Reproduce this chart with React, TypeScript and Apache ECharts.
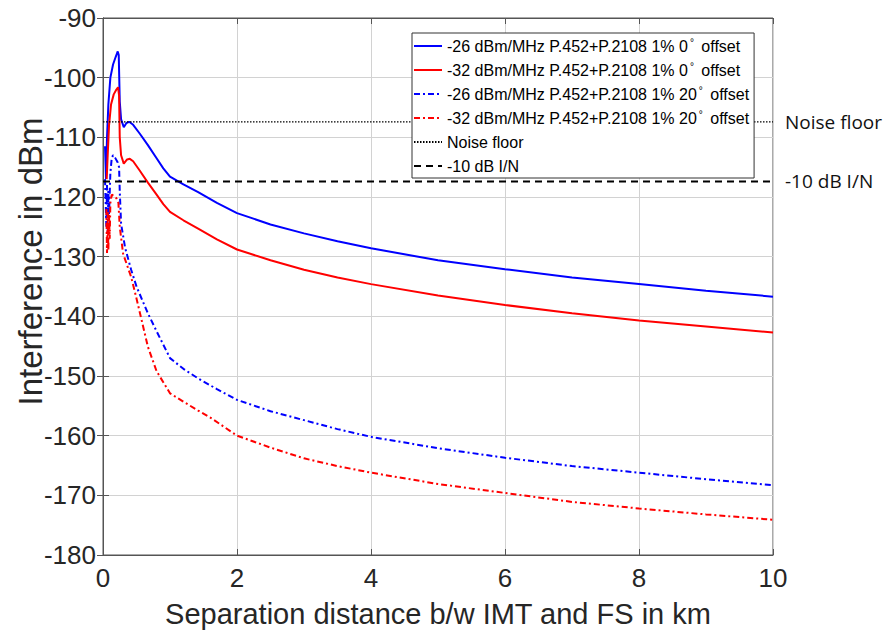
import React, { useEffect, useRef } from 'react';
import * as echarts from 'echarts';

// [distance km, interference dBm]
const blue0: number[][] = [
  [0.03, -111.5], [0.045, -117], [0.06, -110], [0.08, -104.5], [0.11, -100], [0.15, -97.8],
  [0.19, -96.5], [0.22, -95.6], [0.235, -96.2], [0.25, -104], [0.27, -107], [0.31, -108.3],
  [0.35, -107.6], [0.39, -107.4], [0.45, -107.9], [0.55, -109.4], [0.67, -111.3], [0.8, -113.5],
  [0.9, -115.2], [1.0, -116.6], [1.2, -117.9], [1.42, -119.2], [1.7, -121], [2, -122.7],
  [2.5, -124.6], [3, -126.1], [3.5, -127.4], [4, -128.6], [5, -130.6], [6, -132.1],
  [7, -133.5], [8, -134.6], [9, -135.7], [10, -136.7],
];
const red0: number[][] = [
  [0.055, -117], [0.07, -113], [0.09, -108], [0.12, -104.5], [0.16, -102.8], [0.2, -102],
  [0.225, -101.6], [0.24, -103], [0.25, -110], [0.27, -113], [0.31, -114.4], [0.36, -113.7],
  [0.4, -113.6], [0.45, -114], [0.55, -115.6], [0.67, -117.6], [0.8, -119.6], [0.9, -121.2],
  [1.0, -122.5], [1.2, -123.9], [1.42, -125.3], [1.7, -127.1], [2, -128.8], [2.5, -130.6],
  [3, -132.2], [3.5, -133.5], [4, -134.6], [5, -136.5], [6, -138.1], [7, -139.5],
  [8, -140.7], [9, -141.7], [10, -142.7],
];
const blue20: number[][] = [
  [0.03, -117], [0.05, -125], [0.06, -118], [0.07, -126], [0.08, -119], [0.09, -123],
  [0.11, -116], [0.13, -113.5], [0.15, -113], [0.18, -113.4], [0.22, -114.2], [0.24, -115],
  [0.25, -119], [0.27, -124.5], [0.33, -128.5], [0.42, -132.2], [0.5, -135], [0.67, -139.5],
  [0.8, -142.5], [1.0, -147], [1.2, -148.8], [1.42, -150.4], [1.7, -152.2], [2, -154],
  [2.5, -155.9], [3, -157.4], [3.5, -158.9], [4, -160.2], [5, -162.1], [6, -163.7],
  [7, -165.1], [8, -166.2], [9, -167.3], [10, -168.3],
];
const red20: number[][] = [
  [0.05, -122], [0.06, -129.4], [0.07, -122.5], [0.08, -129], [0.09, -123], [0.1, -127],
  [0.11, -121], [0.13, -119.6], [0.16, -119.8], [0.2, -120.2], [0.23, -121], [0.25, -125],
  [0.3, -129.5], [0.42, -133.4], [0.5, -137], [0.67, -145.1], [0.8, -149.2], [1, -152.9],
  [1.2, -154.3], [1.42, -155.8], [1.62, -157.1], [2, -160], [2.5, -162], [3, -163.8],
  [3.5, -165.1], [4, -166.2], [5, -168.1], [6, -169.6], [7, -171.1], [8, -172.2],
  [9, -173.2], [10, -174.1],
];
const noiseFloor = -107.4;
const iNLevel = -117.4;
const xExtent = [0, 10];
const seriesNames = [
  '-26 dBm/MHz P.452+P.2108 1% 0° offset',
  '-32 dBm/MHz P.452+P.2108 1% 0° offset',
  '-26 dBm/MHz P.452+P.2108 1% 20° offset',
  '-32 dBm/MHz P.452+P.2108 1% 20° offset',
  'Noise floor',
  '-10 dB I/N',
];

const AX = '#262626';
const FONT = 'Liberation Sans, Arial, sans-serif';

export default function App() {
  const ref = useRef<HTMLDivElement>(null);
  useEffect(() => {
    const chart = echarts.init(ref.current!, null, { renderer: 'svg' });
    const axisCommon = {
      axisLine: { show: true, lineStyle: { color: '#555', width: 1 } },
      axisTick: { show: true, inside: true, length: 6, lineStyle: { color: '#555' } },
    };
    const endLabel = (text: string) => ({
      show: true,
      formatter: text,
      distance: 12,
      color: '#111',
      fontSize: 19,
      fontFamily: 'Open Sans, sans-serif',
    });
    const option: any = {
      animation: false,
      backgroundColor: '#fff',
      grid: {
        left: 103, right: 114, top: 18, bottom: 77,
        containLabel: false, outerBoundsMode: 'none',
        show: true, borderColor: '#555', borderWidth: 1,
      },
      legend: {
        orient: 'vertical',
        left: 412,
        top: 33,
        padding: [4, 5, 3, 1],
        itemGap: 6,
        itemWidth: 28,
        itemHeight: 14,
        backgroundColor: '#fff',
        borderColor: '#333',
        borderWidth: 1,
        borderRadius: 0,
        itemStyle: { opacity: 0 },
        data: seriesNames,
        formatter: (name: string) => name.replace('°', '{sup|°}'),
        textStyle: {
          fontSize: 16,
          fontFamily: FONT,
          color: '#000',
          lineHeight: 18,
          rich: {
            sup: { fontSize: 10, fontFamily: FONT, color: '#000', lineHeight: 18, verticalAlign: 'top', padding: [0, 3, 0, 2] },
          },
        },
      },
      xAxis: [
        {
          type: 'value', min: xExtent[0], max: xExtent[1], interval: 2, position: 'bottom',
          ...axisCommon,
          axisLabel: { fontSize: 26, color: AX, fontFamily: FONT, margin: 10 },
          splitLine: { show: true, lineStyle: { color: '#d2d2d2', width: 1 } },
          name: 'Separation distance b/w IMT and FS in km', nameLocation: 'middle', nameGap: 44,
          nameMoveOverlap: false,
          nameTextStyle: { fontSize: 29, color: AX, fontFamily: FONT },
        },
        {
          type: 'value', min: xExtent[0], max: xExtent[1], interval: 2, position: 'top',
          ...axisCommon, axisLabel: { show: false }, splitLine: { show: false },
        },
      ],
      yAxis: [
        {
          type: 'value', min: -180, max: -90, interval: 10, position: 'left',
          ...axisCommon,
          axisLabel: { fontSize: 26, color: AX, fontFamily: FONT, margin: 7 },
          splitLine: { show: true, lineStyle: { color: '#d2d2d2', width: 1 } },
          name: 'Interference in dBm', nameLocation: 'middle', nameGap: 56,
          nameMoveOverlap: false,
          nameTextStyle: { fontSize: 33, color: AX, fontFamily: FONT, padding: [0, 0, 0, 50] },
        },
        {
          type: 'value', min: -180, max: -90, interval: 10, position: 'right',
          ...axisCommon, axisLabel: { show: false }, splitLine: { show: false },
        },
      ],
      series: [
        { name: seriesNames[0], type: 'line', data: blue0, symbol: 'none', color: '#0000ff', lineStyle: { color: '#0000ff', width: 2 } },
        { name: seriesNames[1], type: 'line', data: red0, symbol: 'none', color: '#ff0000', lineStyle: { color: '#ff0000', width: 2 } },
        { name: seriesNames[2], type: 'line', data: blue20, symbol: 'none', color: '#0000ff', lineStyle: { color: '#0000ff', width: 2, type: [6, 3, 2, 3] } },
        { name: seriesNames[3], type: 'line', data: red20, symbol: 'none', color: '#ff0000', lineStyle: { color: '#ff0000', width: 2, type: [6, 3, 2, 3] } },
        {
          name: seriesNames[4], type: 'line', data: [[xExtent[0], noiseFloor], [xExtent[1], noiseFloor]], symbol: 'none',
          color: '#000', lineStyle: { color: '#000', width: 1.2, type: [1.5, 1.5] }, endLabel: endLabel('Noise floor'),
        },
        {
          name: seriesNames[5], type: 'line', data: [[xExtent[0], iNLevel], [xExtent[1], iNLevel]], symbol: 'none',
          color: '#000', lineStyle: { color: '#000', width: 1.8, type: [7, 5] }, endLabel: endLabel('-10 dB I/N'),
        },
      ],
    };
    chart.setOption(option);
    return () => chart.dispose();
  }, []);
  return (
    <div
      ref={ref}
      style={{ position: 'fixed', left: 0, top: 0, width: 887, height: 632, background: '#fff' }}
    />
  );
}
